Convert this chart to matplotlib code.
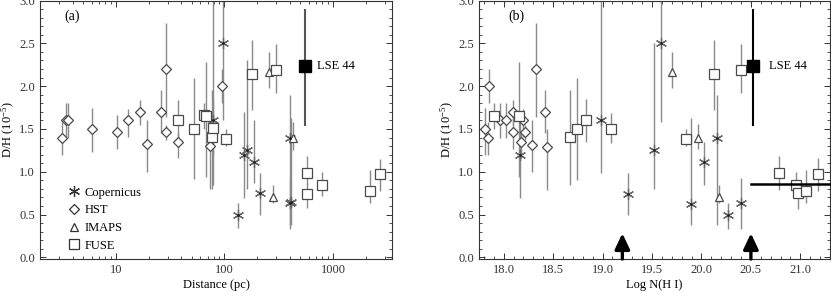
import matplotlib
matplotlib.use("Agg")
import matplotlib.pyplot as plt
from matplotlib.lines import Line2D
from matplotlib.ticker import FixedLocator, FixedFormatter, MultipleLocator, NullFormatter

plt.rcParams["font.family"] = ["Liberation Serif", "DejaVu Serif"]
plt.rcParams["mathtext.fontset"] = "custom"
plt.rcParams["mathtext.rm"] = "Liberation Serif"
plt.rcParams["mathtext.it"] = "Liberation Serif"

# ---------------------------------------------------------------------------
# Panel (a): D/H versus distance (pc)
# ---------------------------------------------------------------------------
cop_dist = [78, 97, 133, 151, 161, 187, 212, 402, 402, 415]
cop_dh_a = [1.60, 2.50, 0.49, 1.20, 1.25, 1.11, 0.75, 1.40, 0.63, 0.65]
cop_lo_a = [0.85, 1.60, 0.34, 0.69, 0.80, 0.87, 0.50, 0.38, 0.33, 0.38]
cop_hi_a = [3.30, 3.30, 0.64, 1.70, 2.30, 1.60, 0.99, 1.90, 0.93, 1.63]

hst_dist = [3.2, 3.45, 3.6, 6.0, 10.2, 12.9, 16.6, 19.3, 26, 29, 29, 37, 73, 95]
hst_dh_a = [1.40, 1.60, 1.60, 1.50, 1.47, 1.60, 1.70, 1.32, 1.70, 1.46, 2.20, 1.35, 1.30, 2.00]
hst_lo_a = [1.20, 1.40, 1.40, 1.23, 1.26, 1.41, 1.55, 1.00, 1.45, 1.37, 1.64, 1.16, 0.80, 1.80]
hst_hi_a = [1.58, 1.80, 1.80, 1.74, 1.66, 1.73, 1.84, 1.60, 1.95, 1.55, 2.74, 1.45, 1.50, 2.20]

imaps_dist = [257, 280, 428]
imaps_dh_a = [2.17, 0.71, 1.40]
imaps_lo_a = [1.98, 0.64, 1.25]
imaps_hi_a = [2.40, 0.85, 1.58]

fuse_dist = [37, 52, 65, 67.5, 77, 79, 103, 179, 298, 576, 576, 792, 2193, 2711]
fuse_dh_a = [1.60, 1.50, 1.66, 1.65, 1.41, 1.51, 1.38, 2.14, 2.19, 0.99, 0.74, 0.84, 0.77, 0.97]
fuse_lo_a = [1.35, 0.91, 1.50, 0.94, 0.80, 1.20, 1.30, 1.72, 1.92, 0.85, 0.58, 0.72, 0.64, 0.77]
fuse_hi_a = [1.84, 2.10, 1.80, 2.28, 1.96, 1.85, 1.50, 2.54, 2.49, 1.18, 0.87, 1.00, 1.02, 1.15]

lse_dist = 552

# ---------------------------------------------------------------------------
# Panel (b): D/H versus log N(H I)
# ---------------------------------------------------------------------------
cop_logn = [18.98, 19.59, 20.27, 18.16, 19.52, 20.03, 19.26, 20.16, 20.40, 19.89]
cop_dh_b = [1.60, 2.50, 0.49, 1.20, 1.25, 1.11, 0.74, 1.40, 0.64, 0.62]
cop_lo_b = [0.99, 1.58, 0.33, 0.69, 0.80, 0.85, 0.50, 0.38, 0.33, 0.38]
cop_hi_b = [3.30, 3.30, 0.64, 1.70, 2.50, 1.35, 0.99, 1.90, 0.93, 1.63]

hst_logn = [17.81, 17.84, 17.85, 17.96, 18.02, 18.09, 18.09, 18.20, 18.17, 18.22, 18.29, 18.33, 18.42, 18.44]
hst_dh_b = [1.50, 1.40, 2.00, 1.60, 1.60, 1.70, 1.46, 1.60, 1.35, 1.46, 1.31, 2.20, 1.70, 1.29]
hst_lo_b = [1.20, 1.20, 1.80, 1.40, 1.40, 1.55, 1.26, 1.41, 1.16, 1.37, 1.00, 1.64, 1.45, 0.79]
hst_hi_b = [1.74, 1.58, 2.20, 1.80, 1.80, 1.84, 1.66, 1.73, 1.45, 1.55, 1.60, 2.74, 1.95, 1.50]

imaps_logn = [19.70, 19.96, 20.18]
imaps_dh_b = [2.17, 1.40, 0.71]
imaps_lo_b = [1.98, 1.27, 0.64]
imaps_hi_b = [2.40, 1.56, 0.85]

fuse_logn = [17.90, 18.15, 18.67, 18.74, 18.83, 19.09, 19.84, 20.13, 20.40, 20.78, 20.96, 20.98, 21.06, 21.18]
fuse_dh_b = [1.65, 1.65, 1.41, 1.50, 1.60, 1.50, 1.38, 2.14, 2.19, 0.99, 0.84, 0.75, 0.77, 0.97]
fuse_lo_b = [1.50, 0.94, 0.85, 0.90, 1.35, 1.34, 1.30, 1.72, 1.92, 0.79, 0.72, 0.57, 0.64, 0.77]
fuse_hi_b = [1.80, 2.28, 1.96, 2.10, 1.85, 1.69, 1.50, 2.54, 2.49, 1.18, 1.00, 0.87, 1.02, 1.16]

lse_logn = 20.52
lse_dh, lse_lo, lse_hi = 2.24, 1.53, 2.90

arrow_logn = [19.2, 20.5]
arrow_top = 0.28
mean_x = [20.5, 21.3]
mean_dh = 0.86

BAR_C = "#8a8a8a"
MK_C = "#4a4a4a"
AST = (6, 2, 0)


def draw_series(ax, x, y, lo, hi, marker, ms):
    ax.vlines(x, lo, hi, color=BAR_C, lw=1.0, zorder=2)
    ax.plot(x, y, ls="none", marker=marker, ms=ms, mfc="white" if marker != AST else "none",
            mec=MK_C if marker != AST else "#666666", mew=0.9, zorder=3)
    if marker == AST:
        ax.plot(x, y, ls="none", marker="o", ms=2.0, mfc="#222222", mec="none", zorder=4)


def style_axes(ax):
    ax.set_ylim(-0.02, 3.0)
    ax.yaxis.set_major_locator(MultipleLocator(0.5))
    ax.yaxis.set_minor_locator(MultipleLocator(0.1))
    ax.tick_params(which="both", direction="in", top=True, right=True, labelsize=9, colors="#333333")
    ax.tick_params(which="major", length=4.5, width=0.7)
    ax.tick_params(which="minor", length=2.5, width=0.6)
    for s in ax.spines.values():
        s.set_linewidth(0.8)
        s.set_color("#333333")
    ax.set_ylabel("D/H (10$^{-5}$)", fontsize=9, labelpad=2)


fig = plt.figure(figsize=(8.31, 2.93), dpi=100)
ax_a = fig.add_axes([0.0481, 0.116, 0.4236, 0.882])
ax_b = fig.add_axes([0.5764, 0.116, 0.4224, 0.882])

# Panel (a)
ax_a.set_xscale("log")
ax_a.set_xlim(2.0, 3500)
draw_series(ax_a, cop_dist, cop_dh_a, cop_lo_a, cop_hi_a, AST, 8)
draw_series(ax_a, hst_dist, hst_dh_a, hst_lo_a, hst_hi_a, "D", 5)
draw_series(ax_a, imaps_dist, imaps_dh_a, imaps_lo_a, imaps_hi_a, "^", 6)
draw_series(ax_a, fuse_dist, fuse_dh_a, fuse_lo_a, fuse_hi_a, "s", 6.5)
ax_a.vlines(lse_dist, lse_lo, lse_hi, color="#555555", lw=1.5, zorder=4)
ax_a.plot(lse_dist, lse_dh, "s", ms=8, color="black", zorder=5)
ax_a.text(715, lse_dh, "LSE 44", fontsize=9, va="center", ha="left")
ax_a.xaxis.set_major_locator(FixedLocator([10, 100, 1000]))
ax_a.xaxis.set_major_formatter(FixedFormatter(["10", "100", "1000"]))
ax_a.xaxis.set_minor_formatter(NullFormatter())
style_axes(ax_a)
ax_a.set_xlabel("Distance (pc)", fontsize=9, labelpad=2)
ax_a.text(0.07, 0.94, "(a)", transform=ax_a.transAxes, fontsize=10, va="center")

handles = [
    Line2D([], [], ls="none", marker=AST, ms=8, mfc="none", mec="#333333", mew=0.9),
    Line2D([], [], ls="none", marker="D", ms=5, mfc="white", mec="#333333", mew=0.9),
    Line2D([], [], ls="none", marker="^", ms=6, mfc="white", mec="#333333", mew=0.9),
    Line2D([], [], ls="none", marker="s", ms=6.5, mfc="white", mec="#333333", mew=0.9),
]
ax_a.legend(handles, ["Copernicus", "HST", "IMAPS", "FUSE"], loc="lower left",
            bbox_to_anchor=(0.055, -0.005), frameon=False, fontsize=9,
            handlelength=1.0, handletextpad=0.3, labelspacing=0.45, borderaxespad=0.3)

# Panel (b)
ax_b.set_xlim(17.75, 21.3)
draw_series(ax_b, cop_logn, cop_dh_b, cop_lo_b, cop_hi_b, AST, 8)
draw_series(ax_b, hst_logn, hst_dh_b, hst_lo_b, hst_hi_b, "D", 5)
draw_series(ax_b, imaps_logn, imaps_dh_b, imaps_lo_b, imaps_hi_b, "^", 6)
draw_series(ax_b, fuse_logn, fuse_dh_b, fuse_lo_b, fuse_hi_b, "s", 6.5)
ax_b.vlines(lse_logn, lse_lo, lse_hi, color="black", lw=1.5, zorder=4)
ax_b.plot(lse_logn, lse_dh, "s", ms=8, color="black", zorder=5)
ax_b.text(20.68, lse_dh, "LSE 44", fontsize=9, va="center", ha="left")
ax_b.plot(mean_x, [mean_dh, mean_dh], color="black", lw=1.8, zorder=5, clip_on=False)
for xa in arrow_logn:
    ax_b.annotate("", xy=(xa, arrow_top), xytext=(xa, -0.02),
                  arrowprops=dict(arrowstyle="-|>,head_width=0.45,head_length=0.95",
                                  lw=2.4, color="black", shrinkA=0, shrinkB=0), zorder=6)
ax_b.xaxis.set_major_locator(MultipleLocator(0.5))
ax_b.xaxis.set_minor_locator(MultipleLocator(0.1))
style_axes(ax_b)
ax_b.set_xlabel("Log N(H I)", fontsize=9, labelpad=2)
ax_b.text(0.085, 0.94, "(b)", transform=ax_b.transAxes, fontsize=10, va="center")

fig.savefig("out.png", dpi=100)
